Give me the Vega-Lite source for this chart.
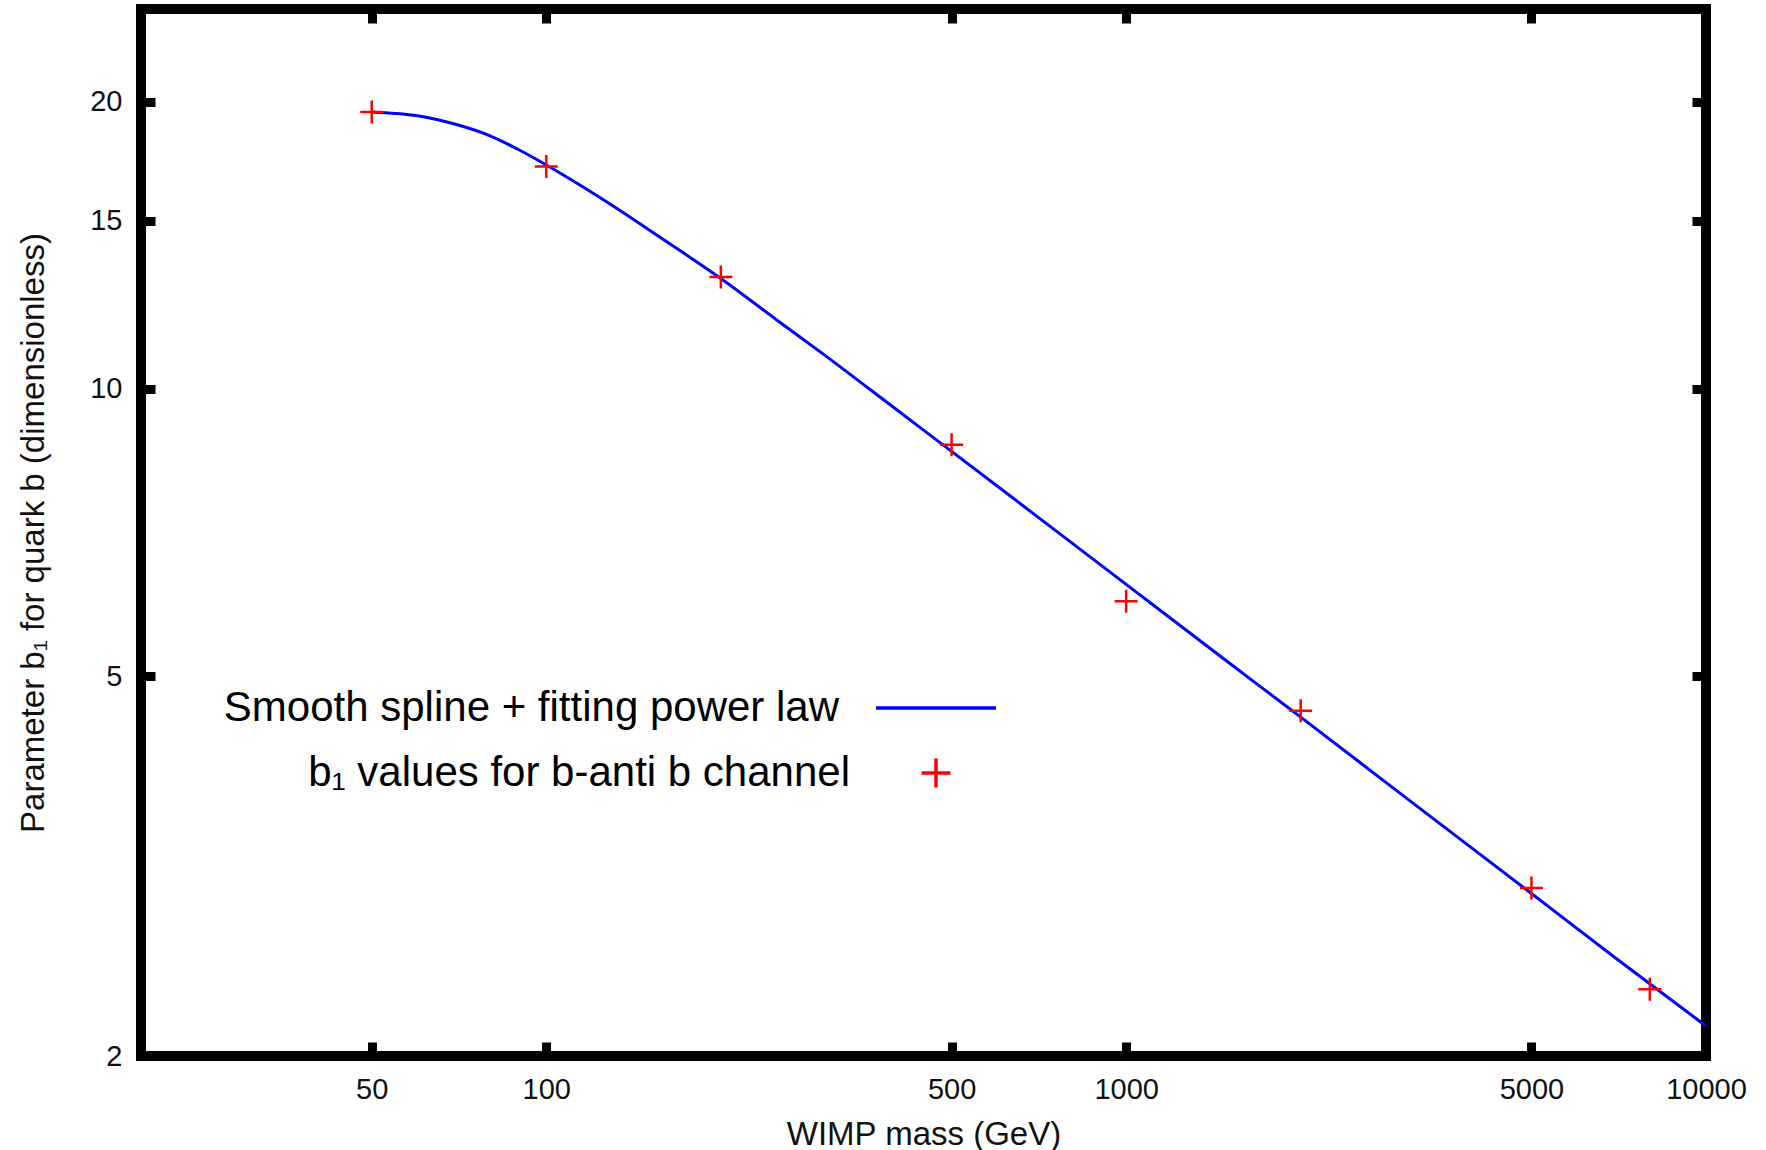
{
  "$schema": "https://vega.github.io/schema/vega-lite/v6.json",
  "width": 1565,
  "height": 1047,
  "autosize": {"type": "none"},
  "padding": {"left": 141, "top": 9, "right": 60, "bottom": 94},
  "background": "white",
  "config": {
    "view": {"stroke": "black", "strokeWidth": 10},
    "axis": {
      "grid": false,
      "domain": false,
      "tickColor": "black",
      "tickWidth": 9,
      "tickSize": -14,
      "labelFont": "Liberation Sans",
      "labelFontSize": 29,
      "labelColor": "#111111",
      "titleFont": "Liberation Sans",
      "titleFontSize": 33,
      "titleFontWeight": "normal",
      "titleColor": "#111111",
      "labelFlush": false,
      "labelOverlap": false
    }
  },
  "layer": [
    {
      "data": {
        "values": [
          {"mass": 50, "b1": 19.5, "series": "Smooth spline + fitting power law"},
          {"mass": 55, "b1": 19.43, "series": "Smooth spline + fitting power law"},
          {"mass": 60, "b1": 19.32, "series": "Smooth spline + fitting power law"},
          {"mass": 65, "b1": 19.14, "series": "Smooth spline + fitting power law"},
          {"mass": 70, "b1": 18.92, "series": "Smooth spline + fitting power law"},
          {"mass": 80, "b1": 18.41, "series": "Smooth spline + fitting power law"},
          {"mass": 90, "b1": 17.78, "series": "Smooth spline + fitting power law"},
          {"mass": 100, "b1": 17.16, "series": "Smooth spline + fitting power law"},
          {"mass": 115, "b1": 16.31, "series": "Smooth spline + fitting power law"},
          {"mass": 130, "b1": 15.56, "series": "Smooth spline + fitting power law"},
          {"mass": 150, "b1": 14.69, "series": "Smooth spline + fitting power law"},
          {"mass": 170, "b1": 13.96, "series": "Smooth spline + fitting power law"},
          {"mass": 200, "b1": 13.05, "series": "Smooth spline + fitting power law"},
          {"mass": 250, "b1": 11.8, "series": "Smooth spline + fitting power law"},
          {"mass": 300, "b1": 10.88, "series": "Smooth spline + fitting power law"},
          {"mass": 400, "b1": 9.53, "series": "Smooth spline + fitting power law"},
          {"mass": 500, "b1": 8.6, "series": "Smooth spline + fitting power law"},
          {"mass": 700, "b1": 7.36, "series": "Smooth spline + fitting power law"},
          {"mass": 1000, "b1": 6.24, "series": "Smooth spline + fitting power law"},
          {"mass": 1500, "b1": 5.17, "series": "Smooth spline + fitting power law"},
          {"mass": 2000, "b1": 4.53, "series": "Smooth spline + fitting power law"},
          {"mass": 3000, "b1": 3.75, "series": "Smooth spline + fitting power law"},
          {"mass": 5000, "b1": 2.96, "series": "Smooth spline + fitting power law"},
          {"mass": 7000, "b1": 2.53, "series": "Smooth spline + fitting power law"},
          {"mass": 10000, "b1": 2.15, "series": "Smooth spline + fitting power law"}
        ]
      },
      "mark": {"type": "line", "strokeWidth": 3, "interpolate": "monotone", "clip": true},
      "encoding": {
        "x": {
          "field": "mass", "type": "quantitative",
          "scale": {"type": "log", "domain": [20, 10000], "nice": false},
          "axis": {"orient": "bottom", "values": [50, 100, 500, 1000, 5000, 10000], "format": "d", "title": "WIMP mass (GeV)", "labelPadding": 33, "titleY": 88, "titleBaseline": "alphabetic"}
        },
        "y": {
          "field": "b1", "type": "quantitative",
          "scale": {"type": "log", "domain": [2, 25], "nice": false},
          "axis": {"orient": "left", "values": [2, 5, 10, 15, 20], "format": "d", "title": "Parameter b₁ for quark b (dimensionless)", "labelPadding": 33, "titleX": -98, "titleY": 523.5, "titleAngle": 270, "titleBaseline": "alphabetic", "titleAlign": "center"}
        },
        "color": {
          "field": "series", "type": "nominal",
          "scale": {"domain": ["Smooth spline + fitting power law", "b₁ values for b-anti b channel"], "range": ["#0000ff", "#ff0000"]},
          "legend": {
            "orient": "none", "legendX": 774, "legendY": 678, "title": null, "padding": 0,
            "labelFont": "Liberation Sans", "labelFontSize": 42, "labelColor": "#000000",
            "labelAlign": "right", "labelBaseline": "middle", "labelLimit": 0, "labelOffset": -118,
            "symbolSize": 576, "symbolStrokeWidth": 3.5, "rowPadding": 22,
            "encode": {
              "symbols": {
                "update": {
                  "shape": {"signal": "datum.value === 'Smooth spline + fitting power law' ? 'M-5,0L5,0' : 'M-1.2,0L1.2,0M0,-1.2L0,1.2'"},
                  "fill": {"value": "transparent"},
                  "stroke": {"signal": "datum.value === 'Smooth spline + fitting power law' ? '#0000ff' : '#ff0000'"},
                  "strokeWidth": {"value": 3.5}
                }
              },
              "labels": {
                "update": {
                  "dx": {"signal": "datum.value === 'Smooth spline + fitting power law' ? 0 : 11"}
                }
              }
            }
          }
        }
      }
    },
    {
      "data": {
        "values": [
          {"mass": 50, "b1": 19.5, "series": "b₁ values for b-anti b channel"},
          {"mass": 100, "b1": 17.1, "series": "b₁ values for b-anti b channel"},
          {"mass": 200, "b1": 13.1, "series": "b₁ values for b-anti b channel"},
          {"mass": 500, "b1": 8.74, "series": "b₁ values for b-anti b channel"},
          {"mass": 1000, "b1": 5.99, "series": "b₁ values for b-anti b channel"},
          {"mass": 2000, "b1": 4.6, "series": "b₁ values for b-anti b channel"},
          {"mass": 5000, "b1": 3.0, "series": "b₁ values for b-anti b channel"},
          {"mass": 8000, "b1": 2.35, "series": "b₁ values for b-anti b channel"}
        ]
      },
      "mark": {"type": "point", "shape": "M-1,0L1,0M0,-1L0,1", "size": 529, "strokeWidth": 2.5, "filled": false, "opacity": 1},
      "encoding": {
        "x": {
          "field": "mass", "type": "quantitative",
          "scale": {"type": "log", "domain": [20, 10000], "nice": false},
          "axis": {"orient": "top", "values": [50, 100, 500, 1000, 5000, 10000], "labels": false, "title": null}
        },
        "y": {
          "field": "b1", "type": "quantitative",
          "scale": {"type": "log", "domain": [2, 25], "nice": false},
          "axis": {"orient": "right", "values": [2, 5, 10, 15, 20], "labels": false, "title": null}
        },
        "color": {"field": "series", "type": "nominal"}
      }
    }
  ],
  "resolve": {"scale": {"x": "independent", "y": "independent"}}
}
